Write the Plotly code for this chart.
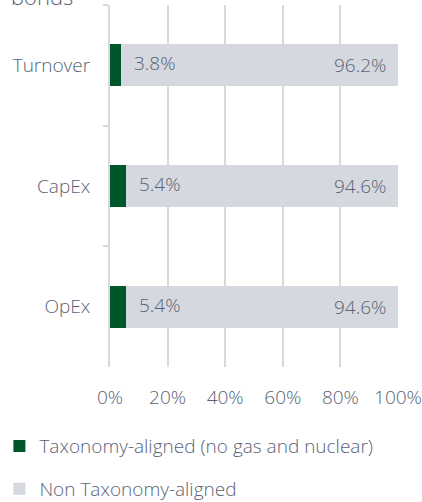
import plotly.graph_objects as go

categories = ["Turnover", "CapEx", "OpEx"]
aligned = [3.8, 5.4, 5.4]
non_aligned = [96.2, 94.6, 94.6]
series_names = ["Taxonomy-aligned (no gas and nuclear)", "Non Taxonomy-aligned"]
x_ticks = [0, 20, 40, 60, 80, 100]
x_tick_labels = ["0%", "20%", "40%", "60%", "80%", "100%"]

GREEN = "#00562b"
GREY = "#d5d8de"
TEXT = "#596377"
GRID = "#d9d9d9"
FONT = "Open Sans"
FS = 19

fig = go.Figure()
fig.add_trace(go.Bar(y=categories, x=aligned, orientation="h", name=series_names[0],
                     marker=dict(color=GREEN, line=dict(width=0)), legendgroup="a",
                     hoverinfo="skip"))
fig.add_trace(go.Bar(y=categories, x=non_aligned, orientation="h", name=series_names[1],
                     marker=dict(color=GREY, line=dict(width=0)), legendgroup="b",
                     hoverinfo="skip"))

annotations = []
for c, a, n in zip(categories, aligned, non_aligned):
    annotations.append(dict(x=a, y=c, xref="x", yref="y", text=f"{a:.1f}%", showarrow=False,
                            xanchor="left", xshift=11, yshift=2,
                            font=dict(family=FONT, size=FS, color=TEXT, weight=300)))
    annotations.append(dict(x=a + n, y=c, xref="x", yref="y", text=f"{n:.1f}%", showarrow=False,
                            xanchor="right", xshift=-10, yshift=0,
                            font=dict(family=FONT, size=FS, color=TEXT, weight=300)))
annotations.append(dict(x=0, y=1, xref="paper", yref="paper", text="bonds", showarrow=False,
                        xanchor="left", yanchor="bottom", xshift=-101, yshift=-8,
                        font=dict(family=FONT, size=22, color=TEXT, weight=300)))

fig.update_layout(
    width=422, height=502,
    barmode="stack", bargap=0.65,
    margin=dict(l=110, r=24, t=5, b=135, autoexpand=False),
    plot_bgcolor="white", paper_bgcolor="white",
    font=dict(family=FONT, size=FS, color=TEXT, weight=300),
    annotations=annotations,
    showlegend=True,
    legend=dict(orientation="v", x=-0.384, xanchor="left", y=-0.166, yanchor="top",
                traceorder="grouped", tracegroupgap=15,
                font=dict(family=FONT, size=FS, color=TEXT, weight=300),
                itemwidth=30),
    xaxis=dict(range=[0, 100], tickvals=x_ticks, ticktext=x_tick_labels,
               showgrid=True, gridcolor=GRID, gridwidth=2, zeroline=False,
               showline=False, ticks="", ticklabelstandoff=17, fixedrange=True),
    yaxis=dict(categoryorder="array", categoryarray=categories, autorange="reversed",
               showgrid=False, showline=True, linecolor=GRID, linewidth=2,
               ticks="outside", tickson="boundaries", ticklen=5, tickcolor=GRID, tickwidth=2,
               ticklabelstandoff=14, fixedrange=True),
)

fig.write_html("out.html", config={"displayModeBar": False},
               post_script="document.body.style.margin='0px';document.body.style.overflow='hidden';")
